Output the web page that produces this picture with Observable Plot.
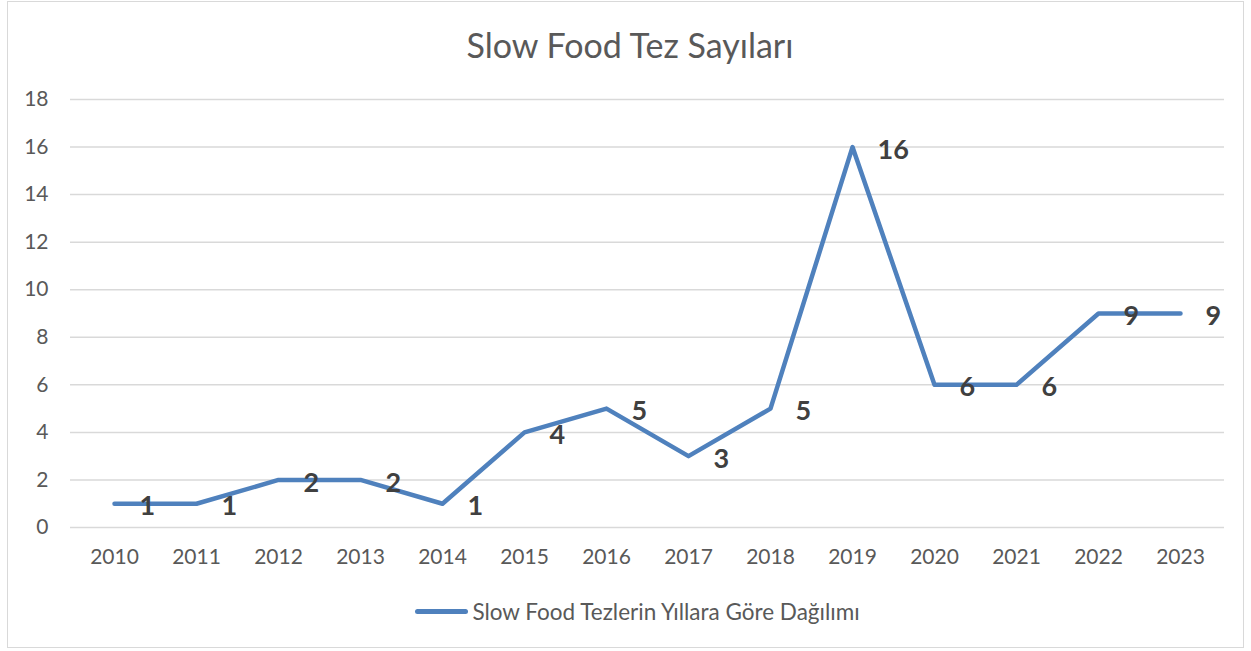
<!DOCTYPE html>
<html>
<head>
<meta charset="utf-8">
<script src="https://cdn.jsdelivr.net/npm/d3@7"></script>
<script src="https://cdn.jsdelivr.net/npm/@observablehq/plot@0.6"></script>
<style>
  html, body { margin: 0; padding: 0; background: #fff; }
  #wrap { position: relative; width: 1251px; height: 651px; font-family: Lato, "Open Sans", sans-serif; }
  #frame { position: absolute; left: 7px; top: 1px; width: 1237px; height: 647px; border: 1px solid #d9d9d9; box-sizing: border-box; }
  #title { position: absolute; left: 9px; top: 0; width: 1242px; height: 90px; line-height: 90px; text-align: center; font-size: 34px; color: #595959; }
  #chart { position: absolute; left: 0; top: 80px; }
  #legend { position: absolute; left: 12px; top: 577px; width: 1251px; height: 68px; display: flex; align-items: center; justify-content: center; font-size: 22.5px; color: #595959; }
  #legend .sw { width: 53px; height: 5px; border-radius: 3px; background: #4f81bd; margin-right: 4px; }
</style>
</head>
<body>
<div id="wrap">
  <div id="frame"></div>
  <div id="title">Slow Food Tez Sayıları</div>
  <div id="chart"></div>
  <div id="legend"><span class="sw"></span><span>Slow Food Tezlerin Yıllara Göre Dağılımı</span></div>
</div>
<script>
const years = ["2010","2011","2012","2013","2014","2015","2016","2017","2018","2019","2020","2021","2022","2023"];
const counts = [1, 1, 2, 2, 1, 4, 5, 3, 5, 16, 6, 6, 9, 9];
const yTicks = [0, 2, 4, 6, 8, 10, 12, 14, 16, 18];

const data = years.map((y, i) => ({year: y, value: counts[i]}));

const chart = Plot.plot({
  width: 1251,
  height: 497,
  marginTop: 19,
  marginBottom: 50,
  marginLeft: 70,
  marginRight: 27,
  style: {fontFamily: "Lato, 'Open Sans', sans-serif", fontSize: "21px", color: "#595959", background: "transparent"},
  x: {type: "point", domain: years, padding: 0.5, label: null},
  y: {domain: [0, 18], label: null},
  marks: [
    Plot.gridY(yTicks, {stroke: "#d9d9d9", strokeOpacity: 1, strokeWidth: 1.5}),
    Plot.axisY(yTicks, {tickSize: 0, tickPadding: 22, fontSize: 21, fill: "#595959", label: null}),
    Plot.axisX(years, {tickSize: 0, tickPadding: 22, fontSize: 21, fill: "#595959", label: null}),
    Plot.line(data, {x: "year", y: "value", stroke: "#4f81bd", strokeWidth: 4.5, strokeLinecap: "round", strokeLinejoin: "round"}),
    Plot.text(data, {x: "year", y: "value", text: d => String(d.value), textAnchor: "start", dx: 25, dy: 3, fontSize: 27, fontWeight: "bold", fill: "#404040"})
  ]
});
document.getElementById("chart").appendChild(chart);
</script>
</body>
</html>
